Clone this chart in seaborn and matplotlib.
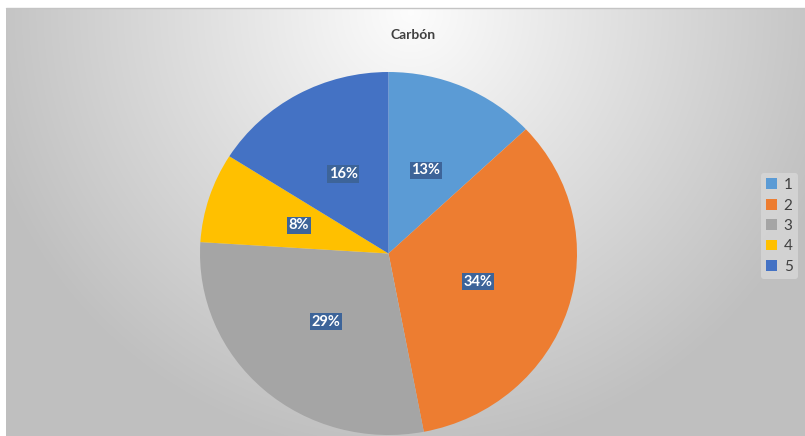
import numpy as np
import matplotlib
matplotlib.use("Agg")
import matplotlib.pyplot as plt
import seaborn as sns

# Datos
categorias = ["1", "2", "3", "4", "5"]
porcentajes = [13, 34, 29, 8, 16]
colores = ["#5b9bd5", "#ed7d31", "#a5a5a5", "#ffc000", "#4472c4"]
titulo = "Carbón"

sns.set_style("white")
plt.rcParams["font.family"] = ["Lato", "DejaVu Sans"]

fig = plt.figure(figsize=(8.05, 4.36), dpi=100)
fig.patch.set_facecolor("white")

# Fondo con degradado radial (estilo Excel)
bg = fig.add_axes([6 / 805, 0, 799 / 805, 428 / 436])
h, w = 428, 799
yy, xx = np.mgrid[0:h, 0:w]
d = np.sqrt((xx - 404) ** 2 + (yy - 5) ** 2) / 445
d = np.clip(d, 0, 1)
shade = 0.99 - 0.24 * d
bg.imshow(np.dstack([shade, shade, shade]), aspect="auto", extent=[0, 1, 0, 1])
bg.set_axis_off()
fig.add_artist(plt.Line2D([6 / 805, 1], [1 - 8.5 / 436] * 2, color="#c4c4c4", lw=1))

# Tarta
ax = fig.add_axes([200 / 805, 1 / 436, 377 / 805, 363 / 436])
wedges, texts, autotexts = ax.pie(
    porcentajes,
    colors=colores,
    startangle=90,
    counterclock=False,
    autopct="%1.0f%%",
    pctdistance=0.5,
    wedgeprops=dict(linewidth=0),
    textprops=dict(color="white", fontweight="bold", fontsize=10.5),
)
for t in autotexts:
    t.set_bbox(dict(facecolor="#3d6499", edgecolor="none", pad=1.2))
ax.set_aspect("auto")
ax.set_xlim(-1, 1)
ax.set_ylim(-1, 1)
ax.set_axis_off()

fig.text(413 / 805, 1 - 35 / 436, titulo, ha="center", va="center",
         fontsize=10, fontweight="bold", color="#404040")

leg = fig.legend(wedges, categorias, loc="center right",
                 bbox_to_anchor=(801 / 805, 1 - 226 / 436),
                 frameon=True, fontsize=11, handlelength=0.7, handleheight=0.7,
                 handletextpad=0.45, labelspacing=0.42, borderpad=0.35,
                 borderaxespad=0.2, labelcolor="#404040")
leg.get_frame().set_facecolor("#d6d6d6")
leg.get_frame().set_edgecolor("none")
leg.get_frame().set_alpha(0.85)

fig.savefig("out.png", dpi=100)
